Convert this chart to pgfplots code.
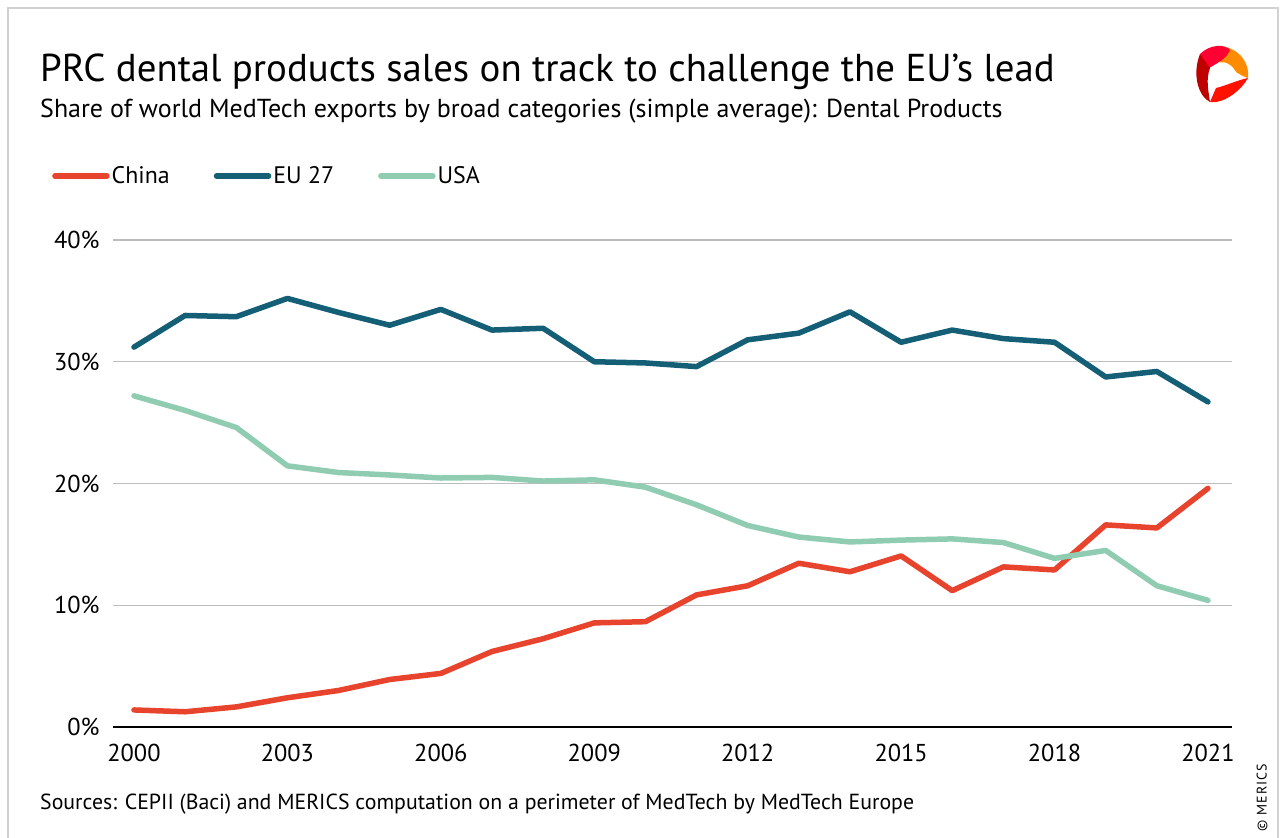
\documentclass[border=0pt]{standalone}
\usepackage{pgfplots}
\pgfplotsset{compat=1.18}
\usepackage{fontspec}
\setmainfont{PT Sans}
\definecolor{cnred}{HTML}{E8432D}
\definecolor{euteal}{HTML}{145F76}
\definecolor{usmint}{HTML}{8FCCB1}
\definecolor{gridgrey}{HTML}{BDBDBD}
\begin{document}
\begin{tikzpicture}
\begin{scope}[x=1bp,y=1bp]
\path[use as bounding box] (0,0) rectangle (1285,838);
\draw[gridgrey!70,line width=1.5bp] (8,0) -- (8,830) -- (1278,830) -- (1278,0);
% title
\node[anchor=base west,inner sep=0,font=\fontsize{39}{44}\selectfont] at (40,838-82) {PRC dental products sales on track to challenge the EU’s lead};
\node[anchor=base west,inner sep=0,font=\fontsize{26.1}{29}\selectfont] at (40,838-118) {Share of world MedTech exports by broad categories (simple average): Dental Products};
% logo
\begin{scope}[shift={(1220,838-74)}]
\fill[orange!90!yellow] (0,28) .. controls (20,26) and (30,10) .. (28,-4) .. controls (20,-2) and (12,6) .. (0,10) -- cycle;
\fill[red!80!magenta] (-20,20) .. controls (-10,30) and (5,30) .. (10,24) .. controls (6,14) and (-5,10) .. (-14,4) -- cycle;
\fill[red!75!black] (-20,20) .. controls (-28,0) and (-22,-22) .. (-10,-28) .. controls (-12,-15) and (-14,-5) .. (-10,6) -- cycle;
\fill[red!85!orange] (-10,-28) .. controls (5,-30) and (22,-15) .. (28,-4) .. controls (18,-6) and (5,-12) .. (-4,-14) -- cycle;
\fill[white] (-8,6) .. controls (0,16) and (10,12) .. (16,2) .. controls (12,-8) and (0,-14) .. (-6,-12) .. controls (-12,-6) and (-12,0) .. (-8,6) -- cycle;
\end{scope}
% source
\node[anchor=base west,inner sep=0,font=\fontsize{21.9}{24}\selectfont] at (40,838-810) {Sources: CEPII (Baci) and MERICS computation on a perimeter of MedTech by MedTech Europe};
\node[rotate=90,anchor=west,inner sep=0,font=\fontsize{14}{16}\selectfont\addfontfeatures{LetterSpace=8}] at (1262,838-832) {© MERICS};
\end{scope}
\begin{axis}[
  at={(113bp,111bp)}, anchor=south west,
  width=1119bp, height=487bp, scale only axis,
  xmin=1999.59, xmax=2021.47, ymin=0, ymax=40,
  axis line style={draw=none},
  ymajorgrids, grid style={gridgrey,line width=1.2bp},
  xtick={2000,2003,2006,2009,2012,2015,2018,2021},
  ytick={0,10,20,30,40},
  yticklabel={\pgfmathprintnumber{\tick}\%},
  xticklabel style={/pgf/number format/1000 sep={}},
  /pgf/number format/assume math mode=true,
  tick label style={font=\fontsize{24.5}{27}\selectfont},
  yticklabel style={xshift=-10bp},
  xticklabel style={yshift=-14bp},
  major tick length=0pt, tick style={draw=none},
  clip=false,
  legend style={at={(axis description cs:-0.0545,1.1314)},anchor=west,draw=none,fill=none,inner sep=0pt,
    legend columns=-1,font=\fontsize{24}{27}\selectfont,
    /tikz/every even column/.append style={column sep=42bp}},
  legend image code/.code={\draw[#1,line cap=round] (0bp,0bp) -- (52bp,0bp);},
]
\draw[black,line width=2.8bp] (axis cs:1999.59,0) -- (axis cs:2021.47,0);
\addplot[cnred,line width=5.5bp,line join=round,line cap=round] coordinates {
(2000,1.4)(2001,1.25)(2002,1.65)(2003,2.4)(2004,3.0)(2005,3.9)(2006,4.4)(2007,6.2)(2008,7.25)(2009,8.55)(2010,8.65)(2011,10.85)(2012,11.6)(2013,13.45)(2014,12.75)(2015,14.05)(2016,11.2)(2017,13.15)(2018,12.9)(2019,16.6)(2020,16.35)(2021,19.6)};
\addlegendentry{China}
\addplot[euteal,line width=5.5bp,line join=round,line cap=round] coordinates {
(2000,31.2)(2001,33.8)(2002,33.7)(2003,35.2)(2004,34.05)(2005,33.0)(2006,34.3)(2007,32.6)(2008,32.75)(2009,30.0)(2010,29.9)(2011,29.6)(2012,31.8)(2013,32.35)(2014,34.1)(2015,31.6)(2016,32.6)(2017,31.9)(2018,31.6)(2019,28.75)(2020,29.2)(2021,26.7)};
\addlegendentry{EU 27}
\addplot[usmint,line width=5.5bp,line join=round,line cap=round] coordinates {
(2000,27.2)(2001,26.0)(2002,24.6)(2003,21.45)(2004,20.9)(2005,20.7)(2006,20.45)(2007,20.5)(2008,20.2)(2009,20.3)(2010,19.7)(2011,18.25)(2012,16.55)(2013,15.6)(2014,15.2)(2015,15.35)(2016,15.45)(2017,15.15)(2018,13.85)(2019,14.5)(2020,11.6)(2021,10.4)};
\addlegendentry{USA}
\end{axis}
\end{tikzpicture}
\end{document}
